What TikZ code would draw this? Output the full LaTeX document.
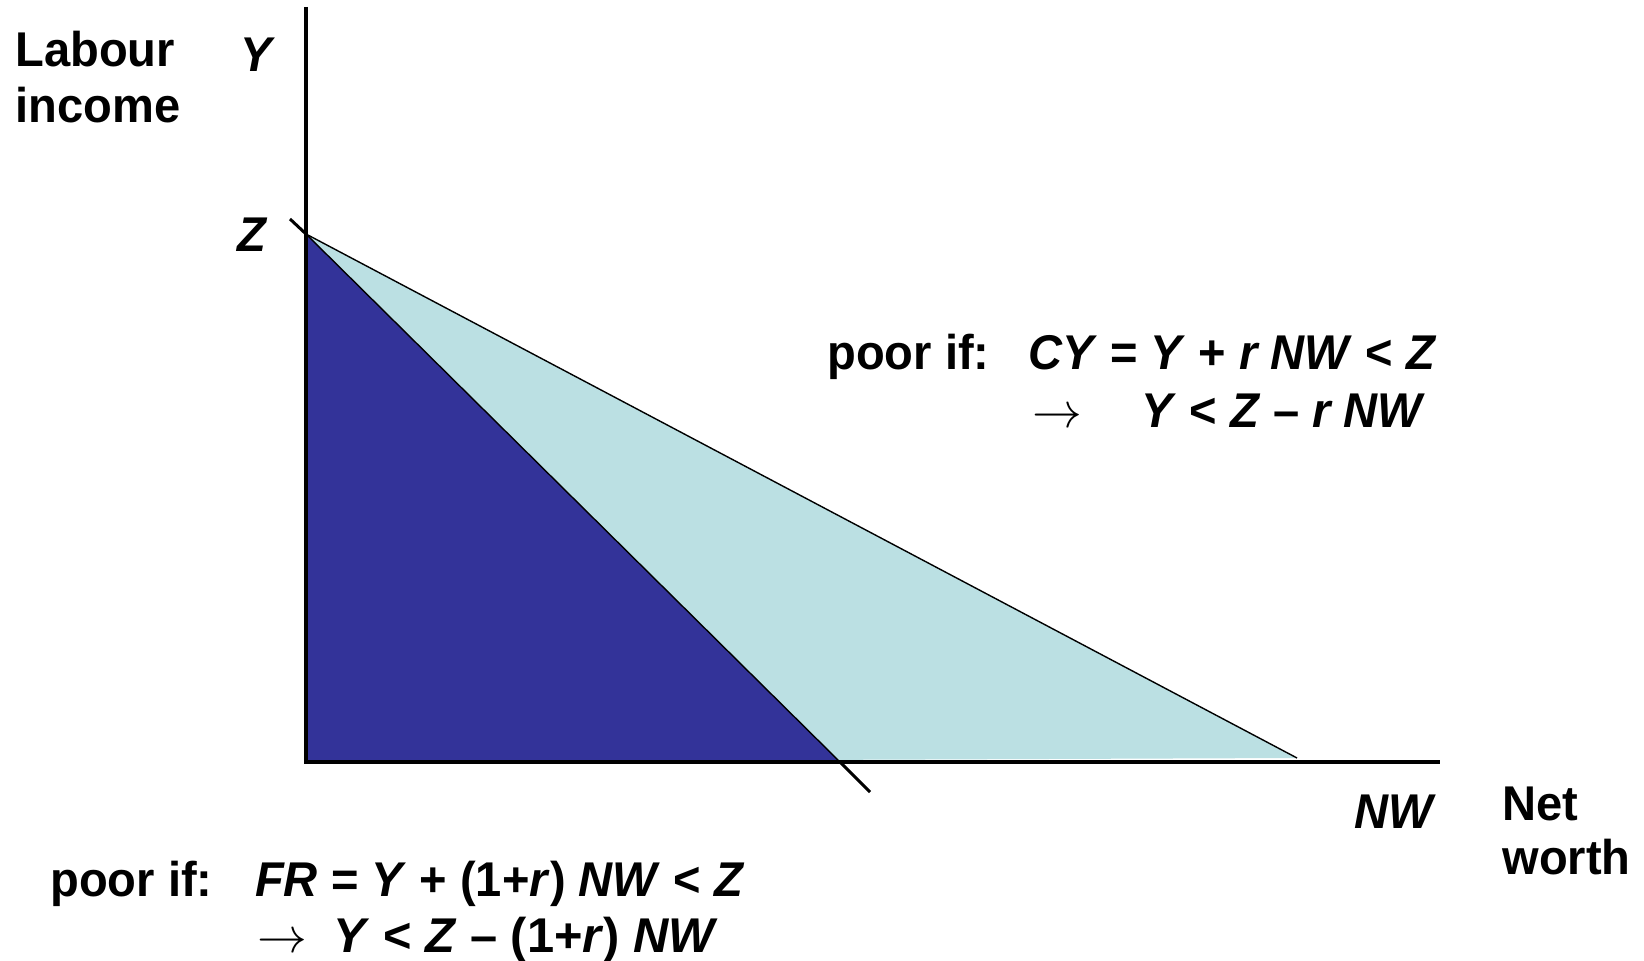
\documentclass[tikz,border=0pt]{standalone}
\usepackage{fontspec}
\setmainfont[FakeStretch=0.965]{Liberation Sans}
\newfontfamily\widefam{Liberation Sans}
\definecolor{darkfill}{RGB}{51,51,153}
\definecolor{lightfill}{RGB}{187,224,227}
\begin{document}
\begin{tikzpicture}[x=0.5pt,y=-0.5pt,
  lbl/.style={font=\fontsize{24.4}{28}\selectfont\bfseries, inner sep=0pt},
  axisline/.style={line width=2pt},
  thinline/.style={line width=0.7pt},
  thickseg/.style={line width=1.5pt}]
\useasboundingbox (0,0) rectangle (1644,961);
% key points
\coordinate (O) at (306,762);
\coordinate (top) at (306,7);
\coordinate (xend) at (1440,762);
\coordinate (Zp) at (306,234);
\coordinate (tickS) at (290,219);
\coordinate (A) at (840,762);
\coordinate (ext) at (870,792);
\coordinate (B) at (1297,758);
% fills
\fill[lightfill] (Zp) -- (B) -- (O) -- cycle;
\fill[darkfill] (Zp) -- (A) -- (O) -- cycle;
% lines
\draw[thinline] (Zp) -- (B);
\draw[thinline] (Zp) -- (A);
\draw[thickseg] (tickS) -- (Zp);
\draw[thickseg] (A) -- (ext);
% axes
\draw[axisline] (top) -- (O) -- (xend);
% axis labels
\node[lbl, anchor=base west] (lab1) at (15,67) {Labour};
\node[lbl, anchor=base west] (lab2) at (15,123) {income};
\node[lbl, anchor=base west] (ylab) at (240,72) {\textit{Y}};
\node[lbl, anchor=base west] (zlab) at (237,252) {\textit{Z}};
\node[lbl, anchor=base east] (nwlab) at (1437,828) {\textit{NW}};
\node[lbl, anchor=base west] (net1) at (1502,820) {Net};
\node[lbl, anchor=base west] (net2) at (1502,875) {worth};
% top condition
\node[lbl, anchor=base west] (poorA) at (827,370) {poor if:};
\node[lbl, anchor=base east] (eqA) at (1437,370) {\textit{CY} = \textit{Y} + \textit{r NW} < \textit{Z}};
\node[lbl, anchor=base west] (arrA) at (1032,428) {$\rightarrow$};
\node[lbl, anchor=base west] (eqA2) at (1141,428) {\textit{Y} < \textit{Z} – \textit{r NW}};
% bottom condition
\node[lbl, anchor=base west] (poorB) at (50,896) {poor if:};
\node[lbl, anchor=base east] (eqB) at (745,896) {\textit{FR} = \textit{Y} + (1+\textit{r}) \textit{NW} < \textit{Z}};
\node[lbl, anchor=base west] (arrB) at (257,952) {$\rightarrow$};
\node[lbl, anchor=base west] (eqB2) at (333,952) {\widefam\textit{Y} < \textit{Z} – (1+\textit{r}) \textit{NW}};
\end{tikzpicture}
\end{document}
